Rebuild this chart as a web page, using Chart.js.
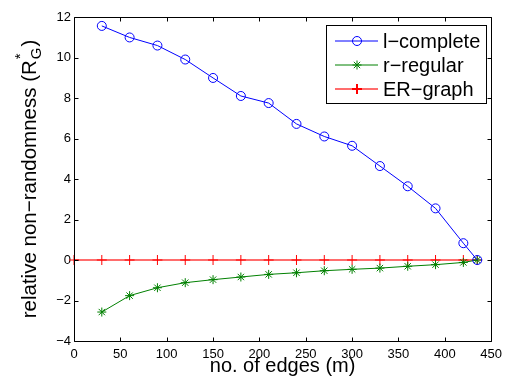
<!DOCTYPE html>
<html>
<head>
<meta charset="utf-8">
<script src="https://cdn.jsdelivr.net/npm/chart.js@4/dist/chart.umd.min.js"></script>
<style>
  html, body { margin: 0; padding: 0; background: #fff; }
  #wrap { width: 508px; height: 383px; position: relative; }
</style>
</head>
<body>
<div id="wrap"><canvas id="c" width="508" height="383"></canvas></div>
<script>
// ---- data ----
const edges = [30, 60, 90, 120, 150, 180, 210, 240, 270, 300, 330, 360, 390, 420, 435];
const lComplete = [11.56, 10.99, 10.59, 9.9, 8.99, 8.1, 7.75, 6.72, 6.1, 5.64, 4.64, 3.64, 2.55, 0.83, 0];
const rRegular = [-2.57, -1.76, -1.37, -1.12, -0.97, -0.84, -0.71, -0.63, -0.53, -0.46, -0.40, -0.31, -0.23, -0.12, 0];
const erEdges = [0, 30, 60, 90, 120, 150, 180, 210, 240, 270, 300, 330, 360, 390, 420, 435];
const erGraph = [0, 0, 0, 0, 0, 0, 0, 0, 0, 0, 0, 0, 0, 0, 0, 0];
const seriesLabels = ['l\u2212complete', 'r\u2212regular', 'ER\u2212graph'];
const xTicks = [0, 50, 100, 150, 200, 250, 300, 350, 400, 450];
const yTicks = [-4, -2, 0, 2, 4, 6, 8, 10, 12];
const xTitle = 'no. of edges (m)';
const yTitleMain = 'relative non\u2212randomness (';
const yTitleR = 'R';
const yTitleSup = '*';
const yTitleSub = 'G';
const yTitleEnd = ')';

const FONT = '"Liberation Sans", Arial, Helvetica, sans-serif';

function pts(xs, ys) { return xs.map((x, i) => ({ x: x, y: ys[i] })); }

const frameTicks = {
  id: 'frameTicks',
  afterDatasetsDraw(chart) {
    const ctx = chart.ctx, a = chart.chartArea;
    const xs = chart.scales.x, ys = chart.scales.y;
    ctx.save();
    ctx.strokeStyle = '#000';
    ctx.lineWidth = 1;
    ctx.beginPath();
    const L = Math.round(a.left) + 0.5, R = Math.round(a.right) + 0.5;
    const T = Math.round(a.top) + 0.5, B = Math.round(a.bottom) + 0.5;
    ctx.rect(L, T, R - L, B - T);
    const tl = 4;
    xTicks.forEach(v => {
      const px = Math.round(xs.getPixelForValue(v)) + 0.5;
      ctx.moveTo(px, B); ctx.lineTo(px, B - tl);
      ctx.moveTo(px, T); ctx.lineTo(px, T + tl);
    });
    yTicks.forEach(v => {
      const py = Math.round(ys.getPixelForValue(v)) + 0.5;
      ctx.moveTo(L, py); ctx.lineTo(L + tl, py);
      ctx.moveTo(R, py); ctx.lineTo(R - tl, py);
    });
    ctx.stroke();
    ctx.restore();
  },
  afterDraw(chart) {
    const ctx = chart.ctx, a = chart.chartArea;
    ctx.save();
    ctx.fillStyle = '#000';
    // x title
    ctx.font = '20px ' + FONT;
    ctx.textAlign = 'center';
    ctx.textBaseline = 'middle';
    ctx.fillText(xTitle, (a.left + a.right) / 2, 366);
    // y title with super/subscript
    ctx.translate(29, 179);
    ctx.rotate(-Math.PI / 2);
    ctx.textAlign = 'left';
    ctx.textBaseline = 'alphabetic';
    const big = '20.5px ' + FONT, small = '15px ' + FONT;
    ctx.font = big;
    const w1 = ctx.measureText(yTitleMain).width;
    const wR = ctx.measureText(yTitleR).width;
    const wE = ctx.measureText(yTitleEnd).width;
    ctx.font = small;
    const wS = Math.max(ctx.measureText(yTitleSup).width, ctx.measureText(yTitleSub).width);
    const total = w1 + wR + wS + 2 + wE;
    let x = -total / 2;
    const base = 7;
    ctx.font = big;
    ctx.fillText(yTitleMain, x, base); x += w1;
    ctx.fillText(yTitleR, x, base); x += wR;
    ctx.font = small;
    ctx.fillText(yTitleSup, x + 1, base - 11);
    ctx.fillText(yTitleSub, x + 1, base + 5);
    x += wS + 2;
    ctx.font = big;
    ctx.fillText(yTitleEnd, x, base);
    ctx.restore();

    // legend
    ctx.save();
    const bx = 326.5, by = 25.5, bw = 160, bh = 78;
    ctx.fillStyle = '#fff';
    ctx.fillRect(bx, by, bw, bh);
    ctx.strokeStyle = '#000';
    ctx.lineWidth = 1;
    ctx.strokeRect(bx, by, bw, bh);
    const rows = [41, 65, 89];
    chart.data.datasets.forEach((ds, i) => {
      const y = rows[i];
      ctx.strokeStyle = ds.borderColor;
      ctx.lineWidth = ds.borderWidth;
      ctx.beginPath();
      ctx.moveTo(335, y); ctx.lineTo(378, y);
      ctx.stroke();
      ctx.strokeStyle = ds.pointBorderColor;
      ctx.fillStyle = 'rgba(0,0,0,0)';
      Chart.helpers.drawPoint(ctx, {
        pointStyle: ds.pointStyle, radius: ds.pointRadius,
        borderWidth: ds.pointBorderWidth, rotation: 0
      }, 357, y);
      ctx.fillStyle = '#000';
      ctx.font = '20px ' + FONT;
      ctx.textAlign = 'left';
      ctx.textBaseline = 'middle';
      ctx.fillText(ds.label, 383, y + 1);
    });
    ctx.restore();
  }
};

new Chart(document.getElementById('c'), {
  type: 'scatter',
  data: {
    datasets: [
      {
        label: seriesLabels[0], data: pts(edges, lComplete), showLine: true,
        borderColor: '#0000ff', borderWidth: 1, pointStyle: 'circle', pointRadius: 4.5,
        pointBorderColor: '#0000ff', pointBackgroundColor: 'rgba(0,0,0,0)', pointBorderWidth: 1,
        clip: false
      },
      {
        label: seriesLabels[1], data: pts(edges, rRegular), showLine: true,
        borderColor: '#008000', borderWidth: 1, pointStyle: 'star', pointRadius: 4.5,
        pointBorderColor: '#008000', pointBackgroundColor: 'rgba(0,0,0,0)', pointBorderWidth: 1,
        clip: false
      },
      {
        label: seriesLabels[2], data: pts(erEdges, erGraph), showLine: true,
        borderColor: 'rgba(255,60,60,0.75)', borderWidth: 2, pointStyle: 'cross', pointRadius: 5,
        pointBorderColor: '#ff0000', pointBackgroundColor: 'rgba(0,0,0,0)', pointBorderWidth: 1,
        clip: false
      }
    ]
  },
  options: {
    responsive: false,
    animation: false,
    devicePixelRatio: 1,
    layout: { padding: { left: 0, top: 17, right: 13, bottom: 0 } },
    plugins: { legend: { display: false }, tooltip: { enabled: false }, title: { display: false } },
    scales: {
      x: {
        type: 'linear', min: 0, max: 450,
        afterBuildTicks: s => { s.ticks = xTicks.map(v => ({ value: v })); },
        afterFit: s => { s.height = 42; },
        grid: { display: false, drawTicks: false },
        border: { display: false },
        ticks: { color: '#000', font: { size: 13, family: FONT }, padding: 6, maxRotation: 0,
                 callback: v => String(v).replace('-', '\u2212') }
      },
      y: {
        type: 'linear', min: -4, max: 12,
        afterBuildTicks: s => { s.ticks = yTicks.map(v => ({ value: v })); },
        afterFit: s => { s.width = 74; },
        grid: { display: false, drawTicks: false },
        border: { display: false },
        ticks: { color: '#000', font: { size: 13, family: FONT }, padding: 3,
                 callback: v => String(v).replace('-', '\u2212') }
      }
    }
  },
  plugins: [frameTicks]
});
</script>
</body>
</html>
